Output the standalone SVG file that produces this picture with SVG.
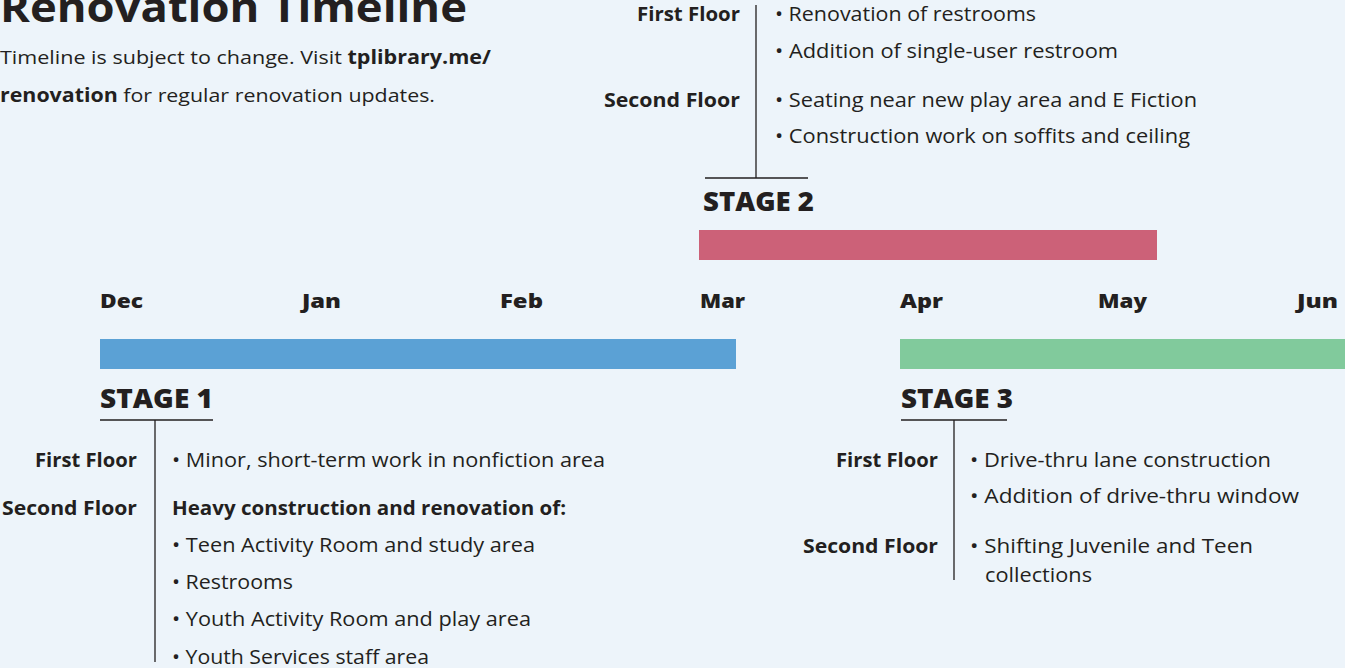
<svg xmlns="http://www.w3.org/2000/svg" width="1345" height="668" viewBox="0 0 1345 668">
<style>
text{font-family:"Open Sans","Noto Sans","Liberation Sans",sans-serif;fill:#231f20}
.title{font-size:42px;font-weight:700}
.sub{font-size:19px}
.b{font-weight:700}
.month{font-size:20px;font-weight:800}
.stage{font-size:27px;font-weight:800}
.floor{font-size:19px;font-weight:700;text-anchor:end}
.item{font-size:20px}
.hd{font-size:19px;font-weight:700}
.ln{stroke:#231f20;stroke-width:1.3;fill:none}
</style>
<rect width="1345" height="668" fill="#edf4fa"/>
<g id="header">
<text class="title" x="0" y="22" textLength="467" lengthAdjust="spacingAndGlyphs">Renovation Timeline</text>
<text class="sub" x="0" y="64" textLength="491" lengthAdjust="spacingAndGlyphs">Timeline is subject to change. Visit <tspan class="b">tplibrary.me/</tspan></text>
<text class="sub" x="0" y="102" textLength="435" lengthAdjust="spacingAndGlyphs"><tspan class="b">renovation</tspan> for regular renovation updates.</text>
</g>
<g id="months">
<text class="month" x="100" y="308" textLength="43" lengthAdjust="spacingAndGlyphs">Dec</text>
<text class="month" x="302" y="308" textLength="39" lengthAdjust="spacingAndGlyphs">Jan</text>
<text class="month" x="500" y="308" textLength="43" lengthAdjust="spacingAndGlyphs">Feb</text>
<text class="month" x="700" y="308" textLength="45" lengthAdjust="spacingAndGlyphs">Mar</text>
<text class="month" x="900" y="308" textLength="43" lengthAdjust="spacingAndGlyphs">Apr</text>
<text class="month" x="1098" y="308" textLength="49" lengthAdjust="spacingAndGlyphs">May</text>
<text class="month" x="1297" y="308" textLength="41" lengthAdjust="spacingAndGlyphs">Jun</text>
</g>
<g id="stage1">
<rect x="100" y="339" width="636" height="30" fill="#5ba1d5"/>
<text class="stage" x="100" y="408" textLength="113" lengthAdjust="spacingAndGlyphs">STAGE 1</text>
<text class="floor" x="137" y="467" textLength="102" lengthAdjust="spacingAndGlyphs">First Floor</text>
<text class="item" x="172" y="467" textLength="433" lengthAdjust="spacingAndGlyphs">• Minor, short-term work in nonfiction area</text>
<text class="floor" x="137" y="515" textLength="135" lengthAdjust="spacingAndGlyphs">Second Floor</text>
<text class="hd" x="172" y="515" textLength="394" lengthAdjust="spacingAndGlyphs">Heavy construction and renovation of:</text>
<text class="item" x="172" y="552" textLength="363" lengthAdjust="spacingAndGlyphs">• Teen Activity Room and study area</text>
<text class="item" x="172" y="589" textLength="121" lengthAdjust="spacingAndGlyphs">• Restrooms</text>
<text class="item" x="172" y="626" textLength="359" lengthAdjust="spacingAndGlyphs">• Youth Activity Room and play area</text>
<text class="item" x="172" y="664" textLength="257" lengthAdjust="spacingAndGlyphs">• Youth Services staff area</text>
</g>
<g id="stage2">
<rect x="699" y="230" width="458" height="30" fill="#cc6178"/>
<text class="stage" x="703" y="211" textLength="111" lengthAdjust="spacingAndGlyphs">STAGE 2</text>
<text class="floor" x="740" y="21" textLength="103" lengthAdjust="spacingAndGlyphs">First Floor</text>
<text class="item" x="775" y="21" textLength="261" lengthAdjust="spacingAndGlyphs">• Renovation of restrooms</text>
<text class="item" x="775" y="58" textLength="343" lengthAdjust="spacingAndGlyphs">• Addition of single-user restroom</text>
<text class="floor" x="740" y="107" textLength="136" lengthAdjust="spacingAndGlyphs">Second Floor</text>
<text class="item" x="775" y="107" textLength="422" lengthAdjust="spacingAndGlyphs">• Seating near new play area and E Fiction</text>
<text class="item" x="775" y="143" textLength="415" lengthAdjust="spacingAndGlyphs">• Construction work on soffits and ceiling</text>
</g>
<g id="stage3">
<rect x="900" y="339" width="445" height="30" fill="#81ca9c"/>
<text class="stage" x="901" y="408" textLength="112" lengthAdjust="spacingAndGlyphs">STAGE 3</text>
<text class="floor" x="938" y="467" textLength="102" lengthAdjust="spacingAndGlyphs">First Floor</text>
<text class="item" x="970" y="467" textLength="301" lengthAdjust="spacingAndGlyphs">• Drive-thru lane construction</text>
<text class="item" x="970" y="503" textLength="329" lengthAdjust="spacingAndGlyphs">• Addition of drive-thru window</text>
<text class="floor" x="938" y="553" textLength="135" lengthAdjust="spacingAndGlyphs">Second Floor</text>
<text class="item" x="970" y="553" textLength="283" lengthAdjust="spacingAndGlyphs">• Shifting Juvenile and Teen</text>
<text class="item" x="985" y="582" textLength="107" lengthAdjust="spacingAndGlyphs">collections</text>
</g>
<g id="connectors">
<path class="ln" d="M705 178H808M756 178V5"/>
<path class="ln" d="M100 420H213M155 420V662"/>
<path class="ln" d="M901 420H1007M954 420V580"/>
</g>
</svg>
